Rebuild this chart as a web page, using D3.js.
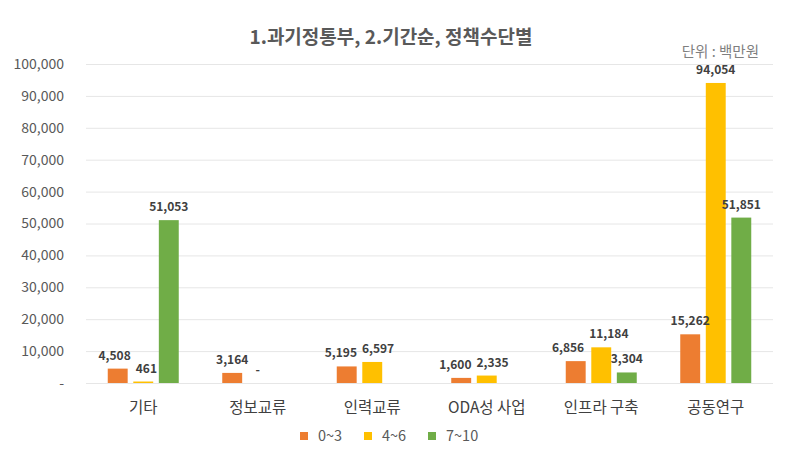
<!DOCTYPE html>
<html><head><meta charset="utf-8">
<script src="https://cdn.jsdelivr.net/npm/d3@7"></script>
<style>
body{margin:0;background:#fff;}
text{font-family:"Noto Sans CJK KR","Noto Sans",sans-serif;}
</style></head>
<body><svg id="c" width="794" height="463"></svg>
<script>
const categories = ["기타","정보교류","인력교류","ODA성 사업","인프라 구축","공동연구"];
const seriesNames = ["0~3","4~6","7~10"];
const s03 = [4508, 3164, 5195, 1600, 6856, 15262];
const s46 = [461, 0, 6597, 2335, 11184, 94054];
const s710 = [51053, null, null, null, 3304, 51851];
const colors = ["#ED7D31","#FFC000","#70AD47"];
const yTicks = [0,10000,20000,30000,40000,50000,60000,70000,80000,90000,100000];
const title = "1.과기정통부, 2.기간순, 정책수단별";
const unit = "단위 : 백만원";

(function(){
const svg = d3.select("#c");
const pl = 86, pr = 773, pt = 64, pb = 383;
const x0 = d3.scaleBand().domain(categories).range([pl, pr]);
const gw = 71;
const x1 = d3.scaleBand().domain(seriesNames).range([0, gw]).paddingInner(0.22);
const y = d3.scaleLinear().domain([0, 100000]).range([pb, pt]);
const fmt = d3.format(",");

svg.append("text").attr("x", 391).attr("y", 44).attr("text-anchor","middle")
  .attr("font-size", 19).attr("font-weight", "bold").attr("fill","#595959").text(title);
svg.append("text").attr("x", 759).attr("y", 57).attr("text-anchor","end")
  .attr("font-size", 14.5).attr("fill","#7f7f7f").text(unit);

const yAxis = d3.axisLeft(y).tickValues(yTicks).tickSize(-(pr-pl))
  .tickFormat(d => d === 0 ? "-" : fmt(d));
const ga = svg.append("g").attr("transform", `translate(${pl},0)`).call(yAxis);
ga.select(".domain").remove();
ga.selectAll(".tick line").attr("stroke","#e6e6e6").attr("stroke-width",1);
ga.selectAll(".tick text").attr("x", -22).attr("font-size", 14).attr("fill","#595959")
  .style("font-family",'"Noto Sans CJK KR",sans-serif');

const data = categories.map((c,i)=>({cat:c, vals:[s03[i], s46[i], s710[i]]}));
const groups = svg.append("g").selectAll("g").data(data).join("g")
  .attr("transform", d => `translate(${x0(d.cat) + x0.bandwidth()/2 - gw/2},0)`);

const items = d => d.vals.map((v,j)=>({v, s:seriesNames[j], j})).filter(e => e.v !== null);
groups.selectAll("rect").data(items).join("rect")
  .attr("x", e => x1(e.s)).attr("width", x1.bandwidth())
  .attr("y", e => y(e.v)).attr("height", e => pb - y(e.v))
  .attr("fill", e => colors[e.j]);

groups.each(function(){
  const g = d3.select(this);
  const lbls = g.selectAll("text.lbl").data(items).join("text").attr("class","lbl")
    .attr("x", e => x1(e.s) + x1.bandwidth()/2)
    .attr("y", e => y(e.v) - 9)
    .attr("text-anchor","middle").attr("font-size", 12).attr("font-weight","bold").attr("fill","#404040")
    .text(e => e.v === 0 ? "-" : fmt(e.v));
  // resolve overlaps between neighbouring labels
  const nodes = lbls.nodes();
  for (let k = 1; k < nodes.length; k++) {
    const a = nodes[k-1].getBBox(), b = nodes[k].getBBox();
    const vOverlap = a.y < b.y + b.height && b.y < a.y + a.height;
    const over = a.x + a.width + 5 - b.x;
    if (vOverlap && over > 0) {
      const ax = +d3.select(nodes[k-1]).attr("x"), bx = +d3.select(nodes[k]).attr("x");
      d3.select(nodes[k-1]).attr("x", ax - over/2);
      d3.select(nodes[k]).attr("x", bx + over/2);
    }
  }
});

svg.append("g").selectAll("text").data(categories).join("text")
  .attr("x", d => x0(d) + x0.bandwidth()/2).attr("y", 413)
  .attr("text-anchor","middle").attr("font-size", 15.5).attr("fill","#404040").text(d => d);

const legX = [300, 364, 428];
const lg = svg.append("g").selectAll("g").data(seriesNames).join("g")
  .attr("transform", (d,i)=>`translate(${legX[i]},432)`);
lg.append("rect").attr("width", 8).attr("height", 8).attr("fill", (d,i)=>colors[i]);
lg.append("text").attr("x", 18).attr("y", 9).attr("font-size", 14.5).attr("fill","#595959").text(d=>d);
})();
</script></body></html>
